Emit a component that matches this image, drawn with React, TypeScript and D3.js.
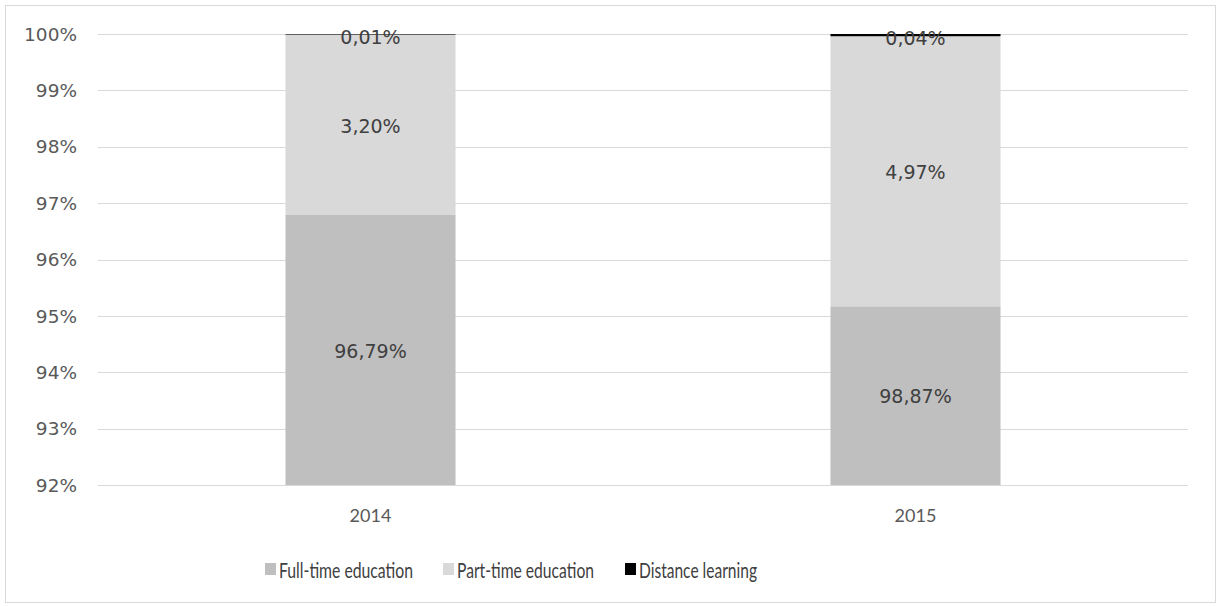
import React from "react";
import * as d3 from "d3";

const years = ["2014", "2015"];
const fullTime = [96.79, 95.17];
const partTime = [3.2, 4.79];
const distance = [0.01, 0.04];
const fullTimeLabels = ["96,79%", "98,87%"];
const partTimeLabels = ["3,20%", "4,97%"];
const distanceLabels = ["0,01%", "0,04%"];
const seriesNames = ["Full-time education", "Part-time education", "Distance learning"];
const seriesColors = ["#BFBFBF", "#D9D9D9", "#000000"];
const yTicks = [92, 93, 94, 95, 96, 97, 98, 99, 100];

const W = 1217;
const H = 606;
const FONT = "Lato, 'Open Sans', sans-serif";
const WIDE = "'DejaVu Sans', Verdana, sans-serif";
const LEGEND_X = [265, 443, 625];
const LEGEND_TEXT_W = [134, 137, 118];

export default function App() {
  const x = d3.scaleBand<string>().domain(years).range([98, 1188]).paddingInner(0.688).paddingOuter(0.344);
  const y = d3.scaleLinear().domain([92, 100]).range([485, 34]);

  const rows = years.map((yr, i) => ({ year: yr, s0: fullTime[i], s1: partTime[i], s2: distance[i] }));
  const stack = d3.stack<any>().keys(["s0", "s1", "s2"]);
  const layers = stack(rows);
  const labels = [fullTimeLabels, partTimeLabels, distanceLabels];

  return (
    <svg width={W} height={H} style={{ position: "absolute", left: 0, top: 0, background: "#fff" }} fontFamily={FONT}>
      <rect x={5.5} y={5.5} width={1210} height={597} fill="#fff" stroke="#D9D9D9" />
      {yTicks.map((t) => (
        <g key={t}>
          <line x1={98} x2={1188} y1={Math.round(y(t)) + 0.5} y2={Math.round(y(t)) + 0.5} stroke="#D9D9D9" strokeWidth={1} />
          <text x={77} y={y(t)} dy="0.36em" textAnchor="end" fontSize={18.5} fill="#595959" fontFamily={WIDE}>
            {t}%
          </text>
        </g>
      ))}
      {layers.map((layer, li) =>
        layer.map((d, i) => {
          const lo = Math.max(d[0], 92);
          const hi = d[1];
          const yTop = y(hi);
          const yBot = y(lo);
          return (
            <rect
              key={`${li}-${i}`}
              x={x(years[i])!}
              width={x.bandwidth()}
              y={yTop}
              height={yBot - yTop}
              fill={seriesColors[li]}
            />
          );
        })
      )}
      {layers.map((layer, li) =>
        layer.map((d, i) => {
          const lo = Math.max(d[0], 92);
          const cy = (y(lo) + y(d[1])) / 2;
          return (
            <text
              key={`l${li}-${i}`}
              x={x(years[i])! + x.bandwidth() / 2}
              y={li === 2 ? cy + 3 : cy + 1}
              dy="0.36em"
              textAnchor="middle"
              fontSize={19}
              fill="#404040"
              fontFamily={WIDE}
            >
              {labels[li][i]}
            </text>
          );
        })
      )}
      {years.map((yr) => (
        <text key={yr} x={x(yr)! + x.bandwidth() / 2} y={516} dy="0.36em" textAnchor="middle" fontSize={18} fill="#595959">
          {yr}
        </text>
      ))}
      {seriesNames.map((n, i) => (
        <g key={n}>
          <rect x={LEGEND_X[i]} y={563} width={11} height={12} fill={seriesColors[i]} />
          <text
            x={LEGEND_X[i] + 14}
            y={570}
            dy="0.36em"
            fontSize={21}
            fill="#404040"
            textLength={LEGEND_TEXT_W[i]}
            lengthAdjust="spacingAndGlyphs"
          >
            {n}
          </text>
        </g>
      ))}
    </svg>
  );
}
